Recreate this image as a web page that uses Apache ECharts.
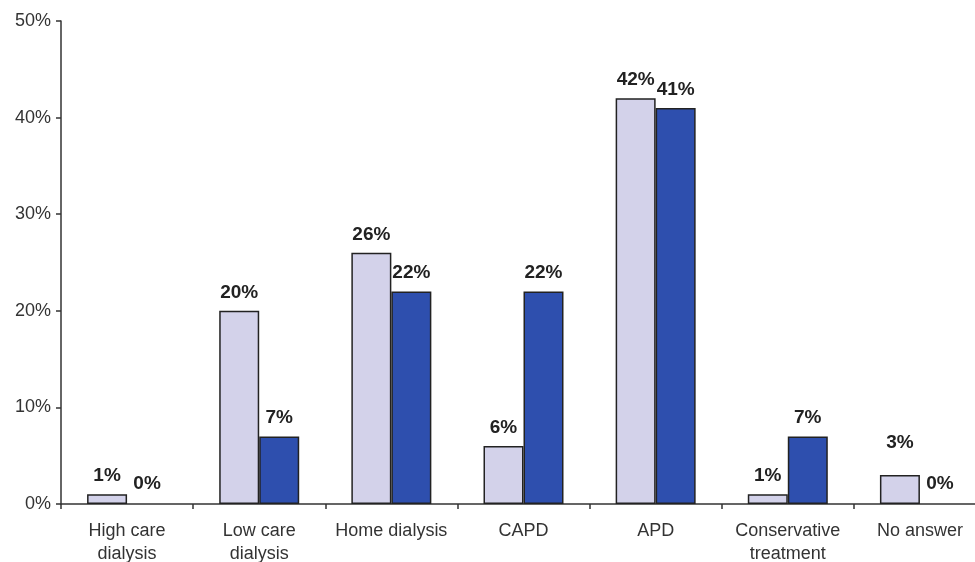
<!DOCTYPE html>
<html>
<head>
<meta charset="utf-8">
<script src="https://cdn.jsdelivr.net/npm/echarts@6/dist/echarts.min.js"></script>
<style>
  html, body { margin: 0; padding: 0; background: #ffffff; }
  #chart { width: 975px; height: 562px; }
</style>
</head>
<body>
<div id="chart"></div>
<script>
// Treatment categories and the two compared groups (percent)
const categories = ['High care\ndialysis', 'Low care\ndialysis', 'Home dialysis', 'CAPD', 'APD', 'Conservative\ntreatment', 'No answer'];
const groupA = [1, 20, 26, 6, 42, 1, 3];
const groupB = [0, 7, 22, 22, 41, 7, 0];
const yTicks = [0, 10, 20, 30, 40, 50];

const chart = echarts.init(document.getElementById('chart'));
const FONT = 'Liberation Sans, Arial, sans-serif';

const labelStyle = {
  show: true,
  position: 'top',
  distance: 9,
  formatter: p => p.value + '%',
  fontFamily: FONT,
  fontWeight: 'bold',
  fontSize: 19,
  color: '#222'
};

// Zero bars carry no outline; a few labels get a small manual lift
function toItems(values, offsets) {
  return values.map((v, i) => {
    const item = { value: v };
    if (v === 0) item.itemStyle = { borderWidth: 0 };
    if (offsets[i]) item.label = { offset: offsets[i] };
    return item;
  });
}

chart.setOption({
  animation: false,
  backgroundColor: '#ffffff',
  grid: { left: 61, top: 21, bottom: 58, width: 925, containLabel: false, outerBoundsMode: 'none' },
  xAxis: {
    type: 'category',
    data: categories,
    boundaryGap: true,
    axisLine: { lineStyle: { color: '#333', width: 1.5 } },
    axisTick: { show: true, length: 5, inside: false, lineStyle: { color: '#333', width: 1.5 } },
    axisLabel: {
      margin: 16,
      fontFamily: FONT,
      fontSize: 18,
      lineHeight: 23,
      color: '#333',
      interval: 0
    }
  },
  yAxis: {
    type: 'value',
    min: yTicks[0],
    max: yTicks[yTicks.length - 1],
    interval: 10,
    axisLine: { show: true, lineStyle: { color: '#333', width: 1.5 } },
    axisTick: { show: true, length: 5, lineStyle: { color: '#333', width: 1.5 } },
    splitLine: { show: false },
    axisLabel: {
      margin: 10,
      formatter: v => v + '%',
      fontFamily: FONT,
      fontSize: 18,
      color: '#333'
    }
  },
  series: [
    {
      type: 'bar',
      data: toItems(groupA, { 6: [0, -14] }),
      barWidth: 40,
      barGap: '0%',
      itemStyle: { color: '#d3d2ea', borderColor: '#222', borderWidth: 1.5 },
      label: labelStyle
    },
    {
      type: 'bar',
      data: toItems(groupB, { 0: [0, -2], 6: [0, -2] }),
      barWidth: 40,
      barGap: '0%',
      itemStyle: { color: '#2e4fae', borderColor: '#222', borderWidth: 1.5 },
      label: labelStyle
    }
  ]
});
</script>
</body>
</html>
